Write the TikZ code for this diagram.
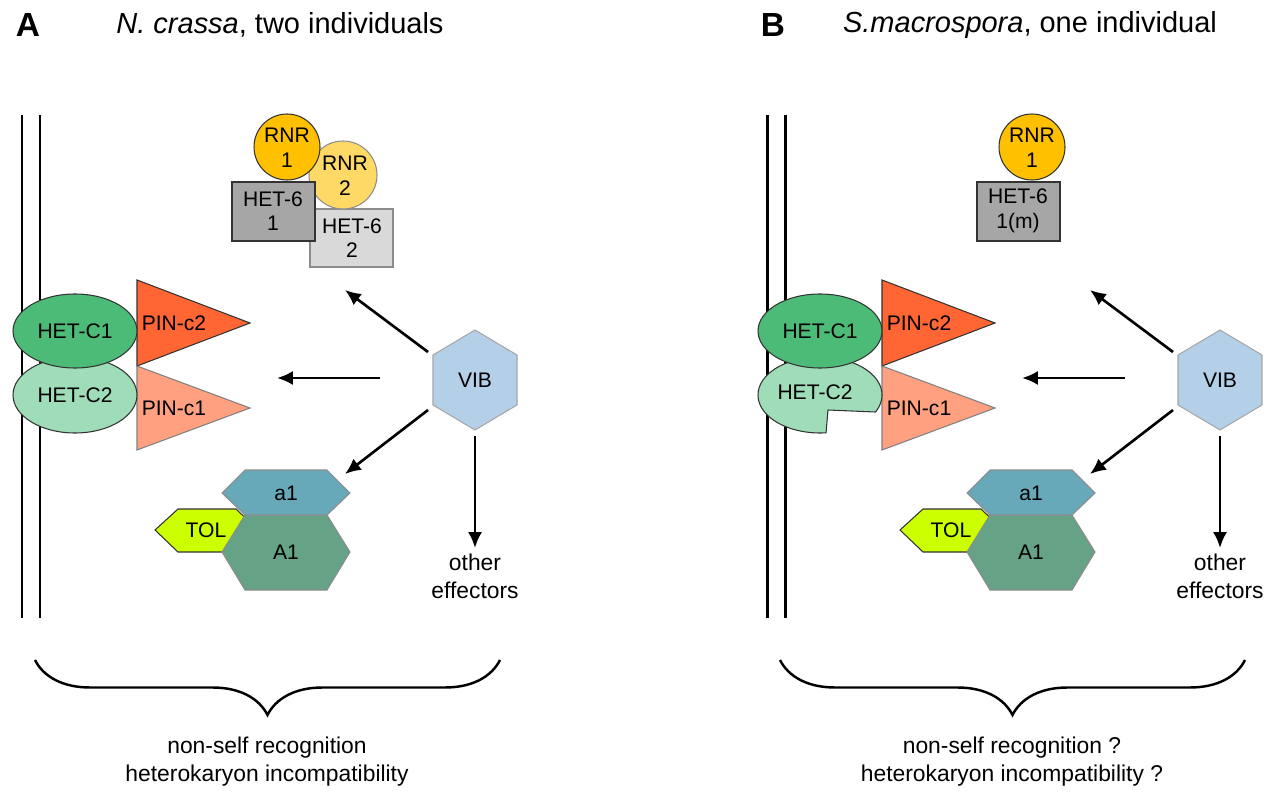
\documentclass[tikz,border=0pt]{standalone}
\usepackage{fontspec}
\setmainfont{Liberation Sans}
\usetikzlibrary{arrows.meta}
\usetikzlibrary{decorations.pathreplacing}
\definecolor{rnrA}{HTML}{FFC000}
\definecolor{rnrB}{HTML}{FFD966}
\definecolor{hetA}{HTML}{A6A6A6}
\definecolor{hetB}{HTML}{D9D9D9}
\definecolor{hetcA}{HTML}{4DBB78}
\definecolor{hetcB}{HTML}{9FDDB8}
\definecolor{pinA}{HTML}{FF6633}
\definecolor{pinB}{HTML}{FFA080}
\definecolor{vib}{HTML}{B4CFE8}
\definecolor{aone}{HTML}{67A9B9}
\definecolor{Aone}{HTML}{66A386}
\definecolor{tol}{HTML}{CCFF00}
\tikzset{
  lbl/.style={font=\fontsize{12}{14}\selectfont, align=center},
  shp/.style={draw=black!80, line width=0.6pt},
  membrane/.style={line width=1.7pt},
  sig/.style={-{Latex[length=9pt,width=8pt]}, line width=1.5pt},
  cbrace/.style={decorate, decoration={brace, mirror, amplitude=1.1cm}, line width=1.4pt}
}
\begin{document}
\begin{tikzpicture}[x=0.02cm, y=-0.02cm]
    \useasboundingbox (0,0) rectangle (1277,800);
    % panel titles
    \node[font=\fontsize{19}{21}\bfseries\selectfont] (tA) at (28,25) {A};
    \node[font=\fontsize{16.5}{20}\selectfont] (tiA) at (280,25) {\textit{N. crassa}, two individuals};
    \node[font=\fontsize{19}{21}\bfseries\selectfont] (tB) at (773,25) {B};
    \node[font=\fontsize{16.5}{20}\selectfont] (tiB) at (1030,25) {\textit{S.macrospora}, one individual};
    % both panels
    \foreach \dx/\p in {0/A, 745/B} {
        \coordinate (m1t\p) at (22+\dx,115);
        \coordinate (m1b\p) at (22+\dx,618);
        \coordinate (m2t\p) at (40+\dx,115);
        \coordinate (m2b\p) at (40+\dx,618);
        \draw[membrane] (m1t\p) -- (m1b\p);
        \draw[membrane] (m2t\p) -- (m2b\p);
        \filldraw[shp, fill=pinA] (137+\dx,280) -- (250+\dx,323) -- (137+\dx,366) -- cycle;
        \filldraw[shp, draw=black!50, fill=pinB] (137+\dx,366) -- (250+\dx,408) -- (137+\dx,450) -- cycle;
        \node[lbl] (pc2\p) at (174+\dx,323) {PIN-c2};
        \node[lbl] (pc1\p) at (174+\dx,408) {PIN-c1};
        \filldraw[shp, fill=tol] (155+\dx,530) -- (178+\dx,509) -- (236+\dx,509) -- (258+\dx,530) -- (236+\dx,552) -- (178+\dx,552) -- cycle;
        \node[lbl] (tol\p) at (206+\dx,530) {TOL};
        \filldraw[shp, draw=black!45, fill=Aone] (222+\dx,552) -- (245+\dx,515) -- (327+\dx,515) -- (350+\dx,552) -- (327+\dx,590) -- (245+\dx,590) -- cycle;
        \filldraw[shp, draw=black!45, fill=aone] (222+\dx,493) -- (245+\dx,470) -- (327+\dx,470) -- (350+\dx,493) -- (327+\dx,515) -- (245+\dx,515) -- cycle;
        \node[lbl] (a\p) at (286+\dx,493) {a1};
        \node[lbl] (A\p) at (286+\dx,552) {A1};
        \filldraw[shp, draw=black!35, fill=vib] (475+\dx,330) -- (517+\dx,355) -- (517+\dx,405) -- (475+\dx,430) -- (433+\dx,405) -- (433+\dx,355) -- cycle;
        \node[lbl] (vib\p) at (475+\dx,380) {VIB};
        \coordinate (s1\p) at (428+\dx,352);
        \coordinate (e1\p) at (345+\dx,290);
        \coordinate (s2\p) at (380+\dx,378);
        \coordinate (e2\p) at (277+\dx,378);
        \coordinate (s3\p) at (428+\dx,410);
        \coordinate (e3\p) at (345+\dx,474);
        \coordinate (s4\p) at (475+\dx,436);
        \node[lbl, anchor=north, font=\fontsize{13}{16}\selectfont] (oth\p) at (475+\dx,548) {other\\effectors};
        \draw[sig] (s1\p) -- (e1\p);
        \draw[sig] (s2\p) -- (e2\p);
        \draw[sig] (s3\p) -- (e3\p);
        \draw[sig] (s4\p) -- (oth\p.north);
        \coordinate (bl\p) at (35+\dx,660);
        \coordinate (br\p) at (500+\dx,660);
        \draw[cbrace] (bl\p) -- (br\p);
    }
    % HET-C complex
    \filldraw[shp, fill=hetcB] (75,395) ellipse [x radius=62, y radius=38];
    \filldraw[shp, fill=hetcA] (75,331) ellipse [x radius=62, y radius=37];
    \node[lbl] (hc2A) at (75,395) {HET-C2};
    \node[lbl] (hc1A) at (75,331) {HET-C1};
    \filldraw[shp, fill=hetcB] plot[domain=84.4:386.6, samples=90] ({820+62*cos(\x)},{395+38*sin(\x)}) -- (828,410) -- cycle;
    \filldraw[shp, fill=hetcA] (820,331) ellipse [x radius=62, y radius=37];
    \node[lbl] (hc2B) at (815,392) {HET-C2};
    \node[lbl] (hc1B) at (820,331) {HET-C1};
    % HET-6 / RNR
    \filldraw[shp, draw=black!45, fill=hetB] (310,209) rectangle (393,267);
    \node[lbl] (h62A) at (352,238) {HET-6\\2};
    \filldraw[shp, draw=black!45, fill=rnrB] (343,175) circle [radius=34];
    \node[lbl] (r2A) at (345,176) {RNR\\2};
    \filldraw[shp, fill=hetA] (232,182) rectangle (315,241);
    \node[lbl] (h61A) at (273,211) {HET-6\\1};
    \filldraw[shp, fill=rnrA] (287,147) circle [radius=33];
    \node[lbl] (r1A) at (287,148) {RNR\\1};
    \filldraw[shp, fill=hetA] (977,182) rectangle (1060,241);
    \node[lbl] (h61B) at (1018,211) {HET-6\\1(m)};
    \filldraw[shp, fill=rnrA] (1032,147) circle [radius=33];
    \node[lbl] (r1B) at (1032,148) {RNR\\1};
    % captions
    \node[lbl, font=\fontsize{13}{16}\selectfont] (capA) at (267,762) {non-self recognition\\heterokaryon incompatibility};
    \node[lbl, font=\fontsize{13}{16}\selectfont] (capB) at (1012,762) {non-self recognition ?\\heterokaryon incompatibility ?};
\end{tikzpicture}
\end{document}
